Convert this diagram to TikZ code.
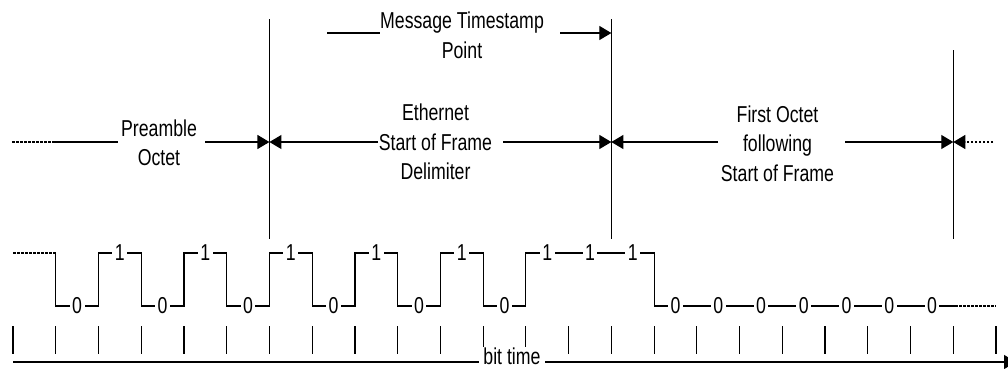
\documentclass[tikz,border=0pt]{standalone}
\usepackage{fontspec}
\setmainfont{Liberation Sans}[FakeStretch=0.77]
\usetikzlibrary{arrows.meta}
\tikzset{
  ln/.style={line width=1.2pt, draw=black},
  tipr/.style={-{Triangle[length=12pt,width=14pt]}},
  txt/.style={font=\fontsize{23}{29.5}\selectfont, align=center, inner sep=0pt},
  bitlbl/.style={font=\fontsize{23}{23}\selectfont, fill=white, inner xsep=2.5pt, inner ysep=1pt},
  dsh/.style={dash pattern=on 2.5pt off 1.5pt},
}
\begin{document}
\begin{tikzpicture}[x=1pt,y=-1pt]
\useasboundingbox (0,0) rectangle (1008,368);
\begin{scope}[xshift=13pt, x=42.74pt]
  % bit time ticks
  \foreach \k in {0,...,23} \draw[ln] (\k,326) -- (\k,354);
  % octet boundaries
  \coordinate (v1t) at (6,19);  \coordinate (v1b) at (6,239);
  \coordinate (v2t) at (14,19); \coordinate (v2b) at (14,239);
  \coordinate (v3t) at (22,50); \coordinate (v3b) at (22,239);
  \draw[ln] (v1t) -- (v1b);
  \draw[ln] (v2t) -- (v2b);
  \draw[ln] (v3t) -- (v3b);
  \coordinate (aP) at (6,142);
  \coordinate (aS) at (14,142);
  \coordinate (aF) at (22,142);
  \coordinate (aM) at (14,33);
  % waveform
  \draw[ln,dsh] (0,253) -- (1,253);
  \draw[ln, line join=miter] (1,253) -- (1,306) -- (2,306) -- (2,253) -- (3,253) -- (3,306)
    -- (4,306) -- (4,253) -- (5,253) -- (5,306) -- (6,306) -- (6,253) -- (7,253) -- (7,306)
    -- (8,306) -- (8,253) -- (9,253) -- (9,306) -- (10,306) -- (10,253) -- (11,253) -- (11,306)
    -- (12,306) -- (12,253) -- (15,253) -- (15,306) -- (22.05,306);
  \draw[ln,dsh] (22.05,306) -- (23,306);
  \foreach \k/\v/\y in {1/0/306,2/1/253,3/0/306,4/1/253,5/0/306,6/1/253,7/0/306,8/1/253,
      9/0/306,10/1/253,11/0/306,12/1/253,13/1/253,14/1/253,15/0/306,16/0/306,17/0/306,
      18/0/306,19/0/306,20/0/306,21/0/306}
    \node[bitlbl] (b\k) at (\k+0.5,\y) {\v};
\end{scope}

% bit time axis
\coordinate (t0) at (13,362);
\coordinate (t1) at (1016,362);
\draw[ln,tipr] (t0) -- (t1);
\node[fill=white, inner xsep=4pt, inner ysep=0pt, anchor=base,
      font=\fontsize{23}{23}\selectfont] (bt) at (512,364) {bit time};

% labels
\node[txt] (msg) at (462,35.5) {Message Timestamp\\Point};
\node[txt] (pre) at (159,143) {Preamble\\Octet};
\node[txt] (sfd) at (435.5,142) {Ethernet\\Start of Frame\\Delimiter};
\node[txt] (fo) at (777.5,143.5) {First Octet\\following\\Start of Frame};

% message timestamp arrow
\coordinate (m0) at (327,33); \coordinate (m1) at (380,33); \coordinate (m2) at (560,33);
\draw[ln] (m0) -- (m1);
\draw[ln,tipr] (m2) -- (aM);

% preamble
\coordinate (p0) at (12,142); \coordinate (p1) at (52,142);
\coordinate (p2) at (118,142); \coordinate (p3) at (205,142);
\draw[ln,dsh] (p0) -- (p1);
\draw[ln] (p1) -- (p2);
\draw[ln,tipr] (p3) -- (aP);

% SFD
\coordinate (s0) at (378,142); \coordinate (s1) at (503,142);
\draw[ln,tipr] (s0) -- (aP);
\draw[ln,tipr] (s1) -- (aS);

% first octet
\coordinate (f0) at (718,142); \coordinate (f1) at (845,142);
\coordinate (f2) at (993,142);
\draw[ln,tipr] (f0) -- (aS);
\draw[ln,tipr] (f1) -- (aF);
\draw[ln,dsh,tipr] (f2) -- (aF);
\end{tikzpicture}
\end{document}
